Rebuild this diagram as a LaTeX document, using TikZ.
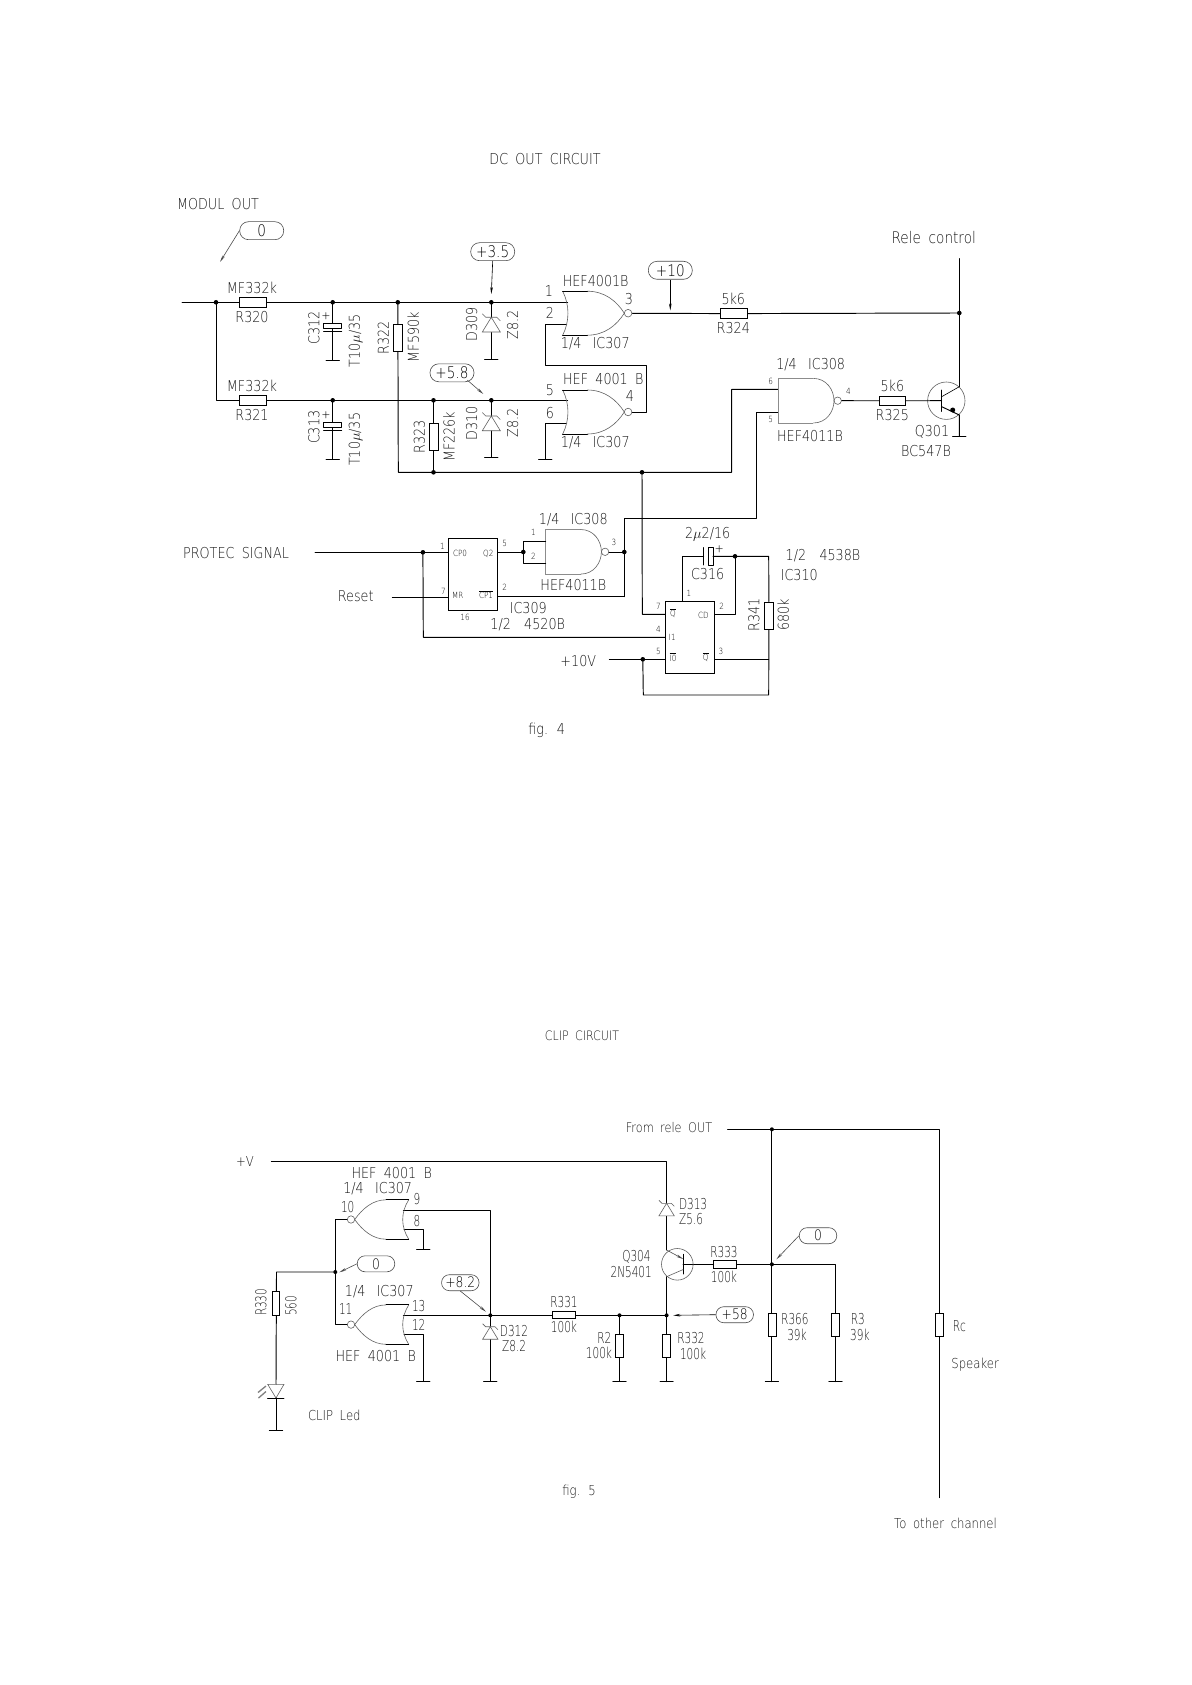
\documentclass[tikz,border=0pt]{standalone}
\usepackage{fontspec}
\usetikzlibrary{arrows.meta}
\newfontfamily\cad{DejaVu Sans ExtraLight}[FakeStretch=.85,WordSpace=1.8]
\newfontfamily\cadn{DejaVu Sans ExtraLight}[FakeStretch=.7,WordSpace=1.8]
\tikzset{
  wire/.style={draw=black,line width=.95pt,line cap=round,line join=round},
  thinl/.style={draw=black!62,line width=.6pt},
  tl/.style={font=\cad\fontsize{15}{15}\selectfont,inner sep=0pt,text=black!90},
  tb/.style={font=\cad\fontsize{15}{15}\selectfont,inner sep=0pt,text=black!90},
  tm/.style={font=\cad\fontsize{13.7}{13.7}\selectfont,inner sep=0pt,text=black!90},
  tn/.style={font=\cadn\fontsize{15}{15}\selectfont,inner sep=0pt,text=black!90},
  ts/.style={font=\cad\fontsize{8.5}{8.5}\selectfont,inner sep=0pt,text=black},
  dot/.style={circle,fill=black,inner sep=0pt,minimum size=4.6pt},
  resH/.style={draw=black,line width=.95pt,fill=white,rectangle,inner sep=0pt,minimum width=27.4pt,minimum height=9.4pt},
  resV/.style={draw=black,line width=.95pt,fill=white,rectangle,inner sep=0pt,minimum width=9.4pt,minimum height=27.4pt},
  resh/.style={draw=black,line width=.95pt,fill=white,rectangle,inner sep=0pt,minimum width=23.4pt,minimum height=7.4pt},
  resv/.style={draw=black,line width=.95pt,fill=white,rectangle,inner sep=0pt,minimum width=7.6pt,minimum height=23.4pt},
  pill/.style={draw=black!70,line width=.6pt,rectangle,rounded corners=8.8pt,minimum width=44pt,minimum height=18pt,inner sep=0pt,fill=white,font=\cad\fontsize{16}{16}\selectfont},
  pills/.style={draw=black!70,line width=.6pt,rectangle,rounded corners=7.8pt,minimum width=37.5pt,minimum height=16pt,inner sep=0pt,fill=white,font=\cad\fontsize{14.5}{14.5}\selectfont},
  arr/.style={draw=black!70,line width=.6pt,-{Stealth[length=7pt,width=2.6pt]}},
  trans/.style={circle,draw=black!62,line width=.6pt,inner sep=0pt},
  gnd/.pic={\draw[wire] (-6.6,0)--(6.6,0);},
  ecap/.pic={\draw[wire,fill=white] (-9,0) rectangle (9,5.2); \draw[wire] (-9,8.2)--(9,8.2);},
  zener/.pic={\draw[thinl,fill=white] (0,0)--(9,14.7)--(-9,14.7)--cycle;
              \draw[thinl] (-9,-3.5)--(-5.5,0)--(5.5,0)--(9,3.5);},
  nor/.pic={\draw[thinl] (24.6,-22) .. controls (42,-22) and (54,-12) .. (61.6,0)
                          .. controls (54,12) and (42,22) .. (24.6,22);
            \draw[thinl] (0,-22) .. controls (7,-8) and (7,8) .. (0,22);
            \draw[wire] (0,-22)--(24.6,-22) (0,22)--(24.6,22);
            \draw[thinl] (65.4,0) circle (3.8);},
  norl/.pic={\draw[thinl] (-22.7,-19.7) .. controls (-36,-19.7) and (-46,-11) .. (-54,0)
                          .. controls (-46,11) and (-36,19.7) .. (-22.7,19.7);
            \draw[thinl] (0,-19.7) .. controls (-8,-7) and (-8,7) .. (0,19.7);
            \draw[wire] (0,-19.7)--(-22.7,-19.7) (0,19.7)--(-22.7,19.7);
            \draw[thinl] (-57.7,0) circle (3.7);},
  nand/.pic={\draw[thinl,draw=black!45,line width=.9pt] (35,-22.3)--(0,-22.3)--(0,22.3)--(35,22.3);
             \draw[thinl] (35,-22.3) .. controls (48,-22.3) and (55.7,-11) .. (55.7,0)
                          .. controls (55.7,11) and (48,22.3) .. (35,22.3);
             \draw[thinl] (59.4,0) circle (3.7);},
}
\begin{document}
\begin{tikzpicture}[x=1pt,y=-1pt]
\useasboundingbox (0,0) rectangle (1191,1685);
\fill[white] (0,0) rectangle (1191,1685);

% ---------- FIG 4 : junctions
\node[dot] (j1) at (216,302.3) {};
\node[dot] (j2) at (332.7,302.3) {};
\node[dot] (j3) at (397.8,302.3) {};
\node[dot] (j4) at (491.3,302.3) {};
\node[dot] (j5) at (332.7,400.3) {};
\node[dot] (j6) at (433.5,400.3) {};
\node[dot] (j7) at (491.3,400.3) {};
\node[dot] (j8) at (433.5,472.3) {};
\node[dot] (j9) at (642,472.3) {};
\node[dot] (j10) at (959.3,313) {};
\node[dot] (j11) at (422.9,552.3) {};
\node[dot] (j12) at (523.3,552) {};
\node[dot] (j13) at (624.3,552) {};
\node[dot] (j14) at (735,556.3) {};
\node[dot] (j15) at (642.8,659.3) {};

% free ends and corners
\coordinate (inL) at (182,302.3);
\coordinate (g1a) at (567.7,302.3);
\coordinate (g1b) at (566.7,324.3);
\coordinate (g1o) at (632.3,313.3);
\coordinate (g2a) at (567.7,400.3);
\coordinate (g2b) at (566.7,423.7);
\coordinate (g2o) at (632.3,412.3);
\coordinate (k1) at (545.3,324.3);
\coordinate (k2) at (545.3,365.3);
\coordinate (k3) at (646.3,365.3);
\coordinate (k4) at (646.3,412.3);
\coordinate (k5) at (545.3,423.7);
\coordinate (gk5) at (545.3,459.3);
\coordinate (g2c) at (398.3,472.3);
\coordinate (g3a) at (778.3,389.3);
\coordinate (g3b) at (778.3,412);
\coordinate (k6) at (731.7,389.3);
\coordinate (k7) at (731.7,472.3);
\coordinate (k8) at (756.7,412);
\coordinate (k9) at (756.7,518.3);
\coordinate (k10) at (624.3,518.3);
\coordinate (k11) at (624.3,596.7);
\coordinate (g3o) at (841.5,400.7);
\coordinate (rel) at (959.3,258.7);
\coordinate (coll) at (959.3,386.7);
\coordinate (emit) at (959.3,415);
\coordinate (gq) at (959.3,436.3);
\coordinate (gc1) at (332.7,360);
\coordinate (gc2) at (332.7,459.3);
\coordinate (gd1) at (491.3,359.3);
\coordinate (gd2) at (491.3,457.3);

% resistors
\node[resH] (R320) at (253,302.3) {};
\node[resH] (R321) at (253,400.3) {};
\node[resV] (R322) at (398,337.8) {};
\node[resV] (R323) at (434,437) {};
\node[resH] (R324) at (734,313.6) {};
\node[resh,minimum width=26.4pt,minimum height=9pt] (R325) at (892.5,400.8) {};
\node[resV] (R341) at (768.9,615.8) {};

% gates and other parts are drawn over the wires
\draw[wire] (inL)--(j1.center)--(j2.center)--(j3.center)--(j4.center)--(g1a);
\draw[wire] (j1.center)|-(j5.center)--(j6.center)--(j7.center)--(g2a);
\draw[wire] (j2.center)--(gc1);
\draw[wire] (j5.center)--(gc2);
\draw[wire] (j3.center)--(g2c)--(j8.center)--(j9.center)--(k7)--(k6)--(g3a);
\draw[wire] (j6.center)--(j8.center);
\draw[wire] (j4.center)--(gd1);
\draw[wire] (j7.center)--(gd2);
\draw[wire] (g1b)--(k1)--(k2)--(k3)--(k4)--(g2o);
\draw[wire] (g2b)--(k5)--(gk5);
\draw[wire] (g1o)--(R324)--(j10.center);
\draw[wire] (rel)--(j10.center)--(coll);
\draw[wire] (g3b)--(k8)--(k9)--(k10)--(k11);
\draw[wire] (g3o)--(R325);

\node[trans,minimum size=37.4pt] (Q301) at (946.3,400.7) {};
\coordinate (q1b) at (941.7,400.7);
\draw[wire] (R325)--(q1b);
\draw[wire] (941.7,390)--(941.7,411.3);
\draw[thinl,draw=black] (941.7,396.7)--(coll);
\draw[wire] (941.7,406.7)--(emit)--(gq);
\node[dot,minimum size=5pt] (q1e) at (952.7,410) {};

\foreach \p in {gc1,gc2,gd1,gd2,gk5,gq}{\pic at (\p) {gnd};}
\pic at (332.7,323.3) {ecap};
\pic at (332.7,422) {ecap};
\pic at (491.3,317.3) {zener};
\pic at (491.3,416) {zener};
\pic at (562.7,313.2) {nor};
\pic at (562.7,412) {nor};
\pic at (778.3,400.7) {nand};
\pic at (545.7,551.8) {nand};

% lower part of fig. 4
\node[rectangle,draw=black,line width=.95pt,inner sep=0pt,minimum width=49.4pt,minimum height=72pt] (IC309) at (473,574.3) {};
\node[rectangle,draw=black,line width=.95pt,inner sep=0pt,minimum width=49.4pt,minimum height=72pt] (IC310) at (690,637.3) {};
\coordinate (prot) at (315,552.3);
\coordinate (res) at (392.3,597.3);
\coordinate (i309a) at (448.3,552.3);
\coordinate (i309b) at (448.3,597.3);
\coordinate (o309a) at (497.7,552);
\coordinate (o309b) at (497.7,596.7);
\coordinate (b1) at (523.3,541.3);
\coordinate (b2) at (545.7,541.3);
\coordinate (b3) at (523.3,563.3);
\coordinate (b4) at (545.7,563.3);
\coordinate (o4011) at (609,552);
\coordinate (v1) at (423.3,637.3);
\coordinate (i310i1) at (665.3,637.3);
\coordinate (i310q) at (665.3,614.3);
\coordinate (v2) at (642.3,614.3);
\coordinate (p10) at (609.3,659.3);
\coordinate (i310i0) at (665.3,659.3);
\coordinate (c1) at (682.7,601.3);
\coordinate (c2) at (682.7,556.3);
\coordinate (c3) at (703.7,556.3);
\coordinate (c4) at (713,556.3);
\coordinate (c5) at (768.7,556.3);
\coordinate (c6) at (768.7,695);
\coordinate (c7) at (643.3,695);
\coordinate (cd1) at (714.7,614.3);
\coordinate (cd2) at (735,614.3);
\coordinate (q3a) at (714.7,659.3);
\coordinate (q3b) at (768.7,659.3);
\draw[wire] (prot)--(j11.center)--(i309a);
\draw[wire] (res)--(i309b);
\draw[wire] (j11.center)--(v1)--(i310i1);
\draw[wire] (o309a)--(j12.center);
\draw[wire] (b2)--(b1)--(b3)--(b4);
\draw[wire] (o4011)--(j13.center);
\draw[wire] (o309b)--(k11);
\draw[wire] (j9.center)--(v2)--(i310q);
\draw[wire] (p10)--(j15.center)--(i310i0);
\draw[wire] (c1)--(c2)--(c3);
\draw[wire] (c4)--(c5)--(R341)--(c6)--(c7)--(j15.center);
\draw[wire] (j14.center)--(cd2)--(cd1);
\draw[wire] (q3a)--(q3b);
\draw[wire] (703.7,547.7)--(703.7,565);
\draw[wire] (708,547.7) rectangle (713,565);

% redraw resistors above the wires
\node[resH] (R320b) at (R320) {};
\node[resH] (R321b) at (R321) {};
\node[resV] (R322b) at (R322) {};
\node[resV] (R323b) at (R323) {};
\node[resH] (R324b) at (R324) {};
\node[resh,minimum width=26.4pt,minimum height=9pt] (R325b) at (R325) {};
\node[resV] (R341b) at (R341) {};

% callouts fig. 4
\node[pill] (p0) at (261.7,230.7) {0};
\node[pill] (p35) at (492.7,251.7) {+3.5};
\node[pill] (p58) at (452,372.8) {+5.8};
\node[pill] (p10v) at (670.3,270.3) {+10};
\coordinate (a0) at (220,262);
\coordinate (a35) at (491.3,294);
\coordinate (a58) at (483.3,394);
\coordinate (a10) at (670.3,310.5);
\draw[arr] (p0.west)--(a0);
\draw[arr,draw=black] (p35.south)--(a35);
\draw[arr] (p58.south east)++(-7,-2)--(a58);
\draw[arr,draw=black] (p10v.south)--(a10);

% labels fig. 4
\node[tb] (t1) at (545,159) {DC OUT CIRCUIT};
\node[tb] (t2) at (218,204) {MODUL OUT};
\node[tl] (t3) at (252,288) {MF332k};
\node[tl] (t4) at (252,317) {R320};
\node[tl] (t5) at (252,386) {MF332k};
\node[tl] (t6) at (252,415.5) {R321};
\node[tl,rotate=90] (t7) at (314,328) {C312};
\node[tl,rotate=90] (t8) at (355.7,340.7) {T10$\mu$/35};
\node[tl,rotate=90] (t9) at (314,427.3) {C313};
\node[tl,rotate=90] (t10) at (355.7,439.3) {T10$\mu$/35};
\node[ts,font=\bfseries\fontsize{9}{9}\selectfont] (t11) at (326,316) {+};
\node[ts,font=\bfseries\fontsize{9}{9}\selectfont] (t12) at (326,415) {+};
\node[tl,rotate=90] (t13) at (383.3,338) {R322};
\node[tl,rotate=90] (t14) at (413.3,337) {MF590k};
\node[tl,rotate=90] (t15) at (471.7,324.3) {D309};
\node[tl,rotate=90] (t16) at (512.7,325) {Z8.2};
\node[tl,rotate=90] (t17) at (419.3,436.7) {R323};
\node[tl,rotate=90] (t18) at (449,436.7) {MF226k};
\node[tl,rotate=90] (t19) at (471.7,423.3) {D310};
\node[tl,rotate=90] (t20) at (512.7,422.7) {Z8.2};
\node[tl] (t21) at (595.7,281) {HEF4001B};
\node[tl] (t22) at (549,290.7) {1};
\node[tl] (t23) at (550,312.7) {2};
\node[tl] (t24) at (629,298.7) {3};
\node[tl] (t25) at (595.3,344) {1/4\hspace{4pt} IC307};
\node[tl] (t26) at (603.3,379.3) {HEF 4001 B};
\node[tl] (t27) at (550,390) {5};
\node[tl] (t28) at (550,413.3) {6};
\node[tl] (t29) at (630,396) {4};
\node[tl] (t30) at (595.3,442.7) {1/4\hspace{4pt} IC307};
\node[tl] (t31) at (733.3,299) {5k6};
\node[tl] (t32) at (733.3,328.3) {R324};
\node[tb,font=\cad\fontsize{16}{16}\selectfont] (t33) at (933.7,237.7) {Rele control};
\node[tl] (t34) at (810.7,365) {1/4\hspace{4pt} IC308};
\node[ts] (t35) at (770.7,381.7) {6};
\node[ts] (t36) at (770.7,419.3) {5};
\node[ts] (t37) at (848.3,391.7) {4};
\node[tl] (t38) at (810,435.7) {HEF4011B};
\node[tl] (t39) at (892.3,386) {5k6};
\node[tl] (t40) at (892.3,415.3) {R325};
\node[tl] (t41) at (932,432.3) {Q301};
\node[tl] (t42) at (926,450.7) {BC547B};
\node[tb] (t43) at (236,553.3) {PROTEC SIGNAL};
\node[tl] (t44) at (355.7,596.3) {Reset};
\node[ts] (t45) at (442.3,546) {1};
\node[ts] (t46) at (460,553.3) {CP0};
\node[ts] (t47) at (488.3,554) {Q2};
\node[ts] (t48) at (504.7,543) {5};
\node[ts] (t49) at (443.3,591) {7};
\node[ts] (t50) at (457.7,595.7) {MR};
\node[ts] (t51) at (486,594.7) {$\overline{\mbox{CP1}}$};
\node[ts] (t52) at (504.7,587.3) {2};
\node[ts] (t53) at (465,617.3) {16};
\node[tl] (t54) at (528.3,608) {IC309};
\node[tl] (t55) at (527.7,624.7) {1/2\hspace{6pt} 4520B};
\node[tl] (t56) at (573.3,519.3) {1/4\hspace{4pt} IC308};
\node[ts] (t57) at (533.3,532.7) {1};
\node[ts] (t58) at (533.3,556.7) {2};
\node[ts] (t59) at (614,542.7) {3};
\node[tl] (t60) at (573.3,584.7) {HEF4011B};
\node[tl] (t61) at (546.7,730) {fig. 4};
\node[tl] (t62) at (578.3,661.3) {+10V};
\node[tl] (t63) at (707.7,534.3) {2$\mu$2/16};
\node[ts,font=\bfseries\fontsize{9}{9}\selectfont] (t64) at (719.3,549.3) {+};
\node[tl] (t65) at (707.7,574) {C316};
\node[tl] (t66) at (823,556) {1/2\hspace{6pt} 4538B};
\node[tl] (t67) at (799.3,575.3) {IC310};
\node[ts] (t68) at (689,593.3) {1};
\node[ts] (t69) at (658.3,606.7) {7};
\node[ts] (t70) at (673,612.8) {$\overline{\mbox{Q}}$};
\node[ts] (t71) at (703.3,615.7) {CD};
\node[ts] (t72) at (721.7,606.7) {2};
\node[ts] (t73) at (658.3,629) {4};
\node[ts] (t74) at (672.3,637.7) {I1};
\node[ts] (t75) at (658.3,651.7) {5};
\node[ts] (t76) at (673,657.2) {$\overline{\mbox{I0}}$};
\node[ts] (t77) at (705.7,657.2) {$\overline{\mbox{Q}}$};
\node[ts] (t78) at (721,651.3) {3};
\node[tl,rotate=90] (t79) at (754,615) {R341};
\node[tl,rotate=90] (t80) at (783.3,615) {680k};

% ---------- FIG 5
\node[dot,minimum size=4pt] (f1) at (335.3,1272) {};
\node[dot,minimum size=4pt] (f2) at (490.3,1315.3) {};
\node[dot,minimum size=4pt] (f3) at (619.5,1315.3) {};
\node[dot,minimum size=4pt] (f4) at (666.6,1315.3) {};
\node[dot,minimum size=4pt] (f5) at (771.9,1129.3) {};
\node[dot,minimum size=4pt] (f6) at (771.9,1264.3) {};
\coordinate (vp) at (271.3,1161.3);
\coordinate (vc) at (666.6,1161.3);
\coordinate (qe) at (666.6,1250);
\coordinate (qc) at (666.6,1276.7);
\coordinate (rf) at (727.5,1129.3);
\coordinate (rfc) at (939.3,1129.3);
\coordinate (spk) at (939.3,1497.7);
\coordinate (w9a) at (403.3,1210);
\coordinate (w9b) at (490.3,1210);
\coordinate (w8a) at (404,1229.3);
\coordinate (w8b) at (423.3,1229.3);
\coordinate (g8) at (423.3,1249.3);
\coordinate (b10) at (347.3,1219.4);
\coordinate (b10c) at (335.3,1219.4);
\coordinate (b11) at (347.3,1324);
\coordinate (b11c) at (335.3,1324);
\coordinate (lt) at (276.5,1272);
\coordinate (lb) at (276,1384.3);
\coordinate (lg) at (276,1430.3);
\coordinate (w13) at (403.3,1315.3);
\coordinate (w12a) at (404,1334.3);
\coordinate (w12b) at (423.3,1334.3);
\coordinate (g12) at (423.3,1381.3);
\coordinate (gd3) at (490.3,1381.3);
\coordinate (gr2) at (619.5,1381.5);
\coordinate (gr332) at (666.6,1381.7);
\coordinate (gr366) at (771.9,1381.7);
\coordinate (r3t) at (835.5,1264.3);
\coordinate (gr3) at (835.5,1381.7);
\coordinate (qb) at (683.2,1264.3);

\draw[wire] (vp)--(vc)--(qe);
\draw[wire] (rf)--(f5.center)--(rfc)--(spk);
\draw[wire] (f5.center)--(gr366);
\draw[wire] (w9a)--(w9b)--(f2.center)--(gd3);
\draw[wire] (w8a)--(w8b)--(g8);
\draw[wire] (b10)--(b10c)--(f1.center)--(b11c)--(b11);
\draw[wire] (f1.center)--(lt)--(lb);
\draw[wire] (lb)--(lg);
\draw[wire] (w13)--(f2.center)--(f3.center)--(f4.center);
\draw[wire] (w12a)--(w12b)--(g12);
\draw[wire] (f3.center)--(gr2);
\draw[wire] (qc)--(f4.center)--(gr332);
\draw[wire] (qb)--(f6.center)--(r3t)--(gr3);

\node[trans,minimum size=31.6pt] (Q304) at (677.3,1264.3) {};
\draw[wire] (683.2,1254.3)--(683.2,1274);
\draw[arr] (qe)--(683.2,1259);
\draw[thinl] (683.2,1269.5)--(qc);

\node[resv] (R330) at (276.1,1303.3) {};
\node[resh] (R331) at (564,1315.2) {};
\node[resv] (R2) at (619.7,1346) {};
\node[resv] (R332) at (666.6,1346) {};
\node[resh] (R333) at (724.8,1264.6) {};
\node[resv] (R366) at (772.2,1325) {};
\node[resv] (R3) at (835.2,1325) {};
\node[resv] (Rc) at (939.7,1325) {};

\foreach \p in {g8,g12,gd3,gr2,gr332,gr366,gr3,lg}{\pic at (\p) {gnd};}
\pic at (408.7,1219.5) {norl};
\pic at (408.7,1324.6) {norl};
\pic[scale=.85] at (490.3,1326.7) {zener};
\pic[scale=.85] at (666.6,1203.3) {zener};
% LED
\draw[thinl,fill=white] (267.7,1384.3)--(284,1384.3)--(276,1398)--cycle;
\draw[wire] (267.7,1398.2)--(284,1398.2);
\draw[draw=black!50,line width=1.3pt] (258,1392.5)--(266,1386) (258.5,1398)--(266,1391.5);

% callouts fig. 5
\node[pills] (q0) at (376,1263.8) {0};
\node[pills] (q82) at (460.3,1282.7) {+8.2};
\node[pills] (q58) at (734.7,1314.7) {+58};
\node[pills] (q0b) at (818,1235.7) {0};
\coordinate (aq0) at (339.3,1272.3);
\coordinate (aq82) at (486,1311.7);
\coordinate (aq58) at (673.2,1315.3);
\coordinate (aq0b) at (776.4,1259.3);
\draw[arr] (q0.west)--(aq0);
\draw[arr] (q82.south)--(aq82);
\draw[arr,draw=black] (q58.west)--(aq58);
\draw[arr] (q0b.west)--(aq0b);

% labels fig. 5
\node[tm,font=\cad\fontsize{13}{13}\selectfont] (u1) at (582,1036) {CLIP CIRCUIT};
\node[tm] (u2) at (245,1161.3) {+V};
\node[tl] (u3) at (391.7,1173.3) {HEF 4001 B};
\node[tl] (u4) at (377.7,1188.3) {1/4\hspace{4pt} IC307};
\node[tn] (u5) at (347.7,1206.7) {10};
\node[tn] (u6) at (417,1199.3) {9};
\node[tn] (u7) at (417,1221) {8};
\node[tl] (u8) at (379.3,1291.7) {1/4\hspace{4pt} IC307};
\node[tn] (u9) at (345.7,1309) {11};
\node[tn] (u10) at (418.7,1306) {13};
\node[tn] (u11) at (418.7,1324.7) {12};
\node[tl] (u12) at (375.7,1355.7) {HEF 4001 B};
\node[tn] (u13) at (514,1330.7) {D312};
\node[tn] (u14) at (514,1346) {Z8.2};
\node[tn] (u15) at (564,1302.3) {R331};
\node[tn] (u16) at (564,1327.3) {100k};
\node[tn] (u17) at (604.3,1338.3) {R2};
\node[tn] (u18) at (599,1353.3) {100k};
\node[tn,rotate=90] (u19) at (261,1302.3) {R330};
\node[tn,rotate=90] (u20) at (291,1305.7) {560};
\node[tm] (u21) at (334.3,1415) {CLIP Led};
\node[tm,font=\cad\fontsize{13.3}{13.3}\selectfont] (u22) at (669,1127.3) {From rele OUT};
\node[tn] (u23) at (794.9,1318.7) {R366};
\node[tn] (u24) at (797,1334.7) {39k};
\node[tn] (u25) at (857.9,1318.7) {R3};
\node[tn] (u26) at (859.9,1334.7) {39k};
\node[tn] (u27) at (959.3,1326) {Rc};
\node[tm] (u28) at (975.1,1365) {Speaker};
\node[tn] (u29) at (693.1,1204) {D313};
\node[tn] (u30) at (691,1219.3) {Z5.6};
\node[tn] (u31) at (636.4,1256.7) {Q304};
\node[tn] (u32) at (631.2,1272) {2N5401};
\node[tn] (u33) at (724,1252.3) {R333};
\node[tn] (u34) at (724,1277.3) {100k};
\node[tn] (u35) at (691,1338) {R332};
\node[tn] (u36) at (693.1,1354) {100k};
\node[tm] (u37) at (579,1491.5) {fig. 5};
\node[tm] (u38) at (945.5,1523.5) {To other channel};
\end{tikzpicture}
\end{document}
